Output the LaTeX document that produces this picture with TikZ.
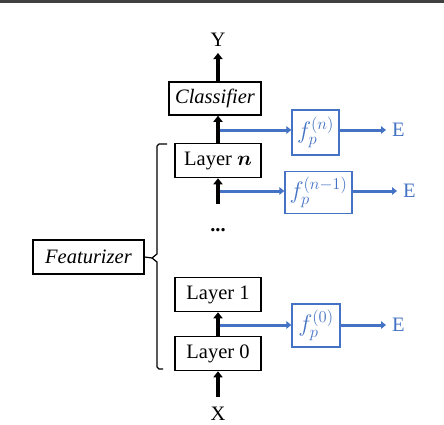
\documentclass[tikz,border=0pt]{standalone}
\usepackage{fontspec}
\setmainfont{Liberation Serif}
\usepackage{bm}
\usetikzlibrary{arrows.meta,positioning}
\definecolor{fblue}{RGB}{68,114,196}
\tikzset{
  blk/.style={line width=3.5pt,-{Triangle[width=9pt,length=6pt]}},
  blu/.style={fblue,line width=3pt,-{Triangle[width=7.5pt,length=5pt]}},
  layer/.style={draw,line width=1.5pt,minimum width=86pt,minimum height=34pt,inner sep=0pt},
  probe/.style={draw=fblue,text=fblue,line width=1.3pt,minimum height=43pt,inner sep=2pt},
  outE/.style={anchor=west,inner xsep=6pt,inner ysep=0pt,text=fblue},
}

\begin{document}
\begin{tikzpicture}[x=1pt,y=-1pt,font=\fontsize{20.5}{24}\selectfont]
    \useasboundingbox (0,0) rectangle (444,424);
    \fill[black!75] (0,0) rectangle (444,3);

    % coordinates to be reused
    \coordinate (yin) at (218,53);
    \coordinate (xout) at (218,397);
    \coordinate (lnin) at (218,204);
    \coordinate (tapn) at (218,130);
    \coordinate (tapm) at (218,191);
    \coordinate (tap0) at (218,325);

    % main stack
    \node[layer,minimum width=92pt,minimum height=33pt] (cls) at (215,98.5) {\textit{Classifier}};
    \node[layer] (lyrn) at (218,160.5) {Layer $\bm{n}$};
    \node (dots) at (218,230) {\textbf{...}};
    \node[layer] (lyr1) at (218,294.5) {Layer 1};
    \node[layer] (lyr0) at (218,353.5) {Layer 0};
    \node[layer,minimum width=111pt] (feat) at (88.5,257) {\textit{Featurizer}};
    \node (Y) at (218,39.5) {Y};
    \node (X) at (218,413.5) {X};

    % probes
    \node[probe,minimum width=47pt,minimum height=45pt] (fn) at (315.5,132.5) {\scalebox{1.15}{$f_p^{(n)}$}};
    \node[probe,minimum width=67pt,minimum height=42pt] (fm) at (318.5,192.5) {\scalebox{1.15}{$f_p^{(n-1)}$}};
    \node[probe,minimum width=48pt] (f0) at (316,325.5) {\scalebox{1.15}{$f_p^{(0)}$}};
    \node[outE] (En) at (386,130) {E};
    \node[outE] (Em) at (397,191) {E};
    \node[outE] (E0) at (386,325) {E};

    % blue branches
    \draw[blu] (tapn) -- (tapn -| fn.west);
    \draw[blu] (tapm) -- (tapm -| fm.west);
    \draw[blu] (tap0) -- (tap0 -| f0.west);
    \draw[blu] (fn.east |- En) -- (En.west);
    \draw[blu] (fm.east |- Em) -- (Em.west);
    \draw[blu] (f0.east |- E0) -- (E0.west);

    % black flow
    \draw[blk] (yin |- cls.north) -- (yin);
    \draw[blk] (lyrn.north) -- (lyrn.north |- cls.south);
    \draw[blk] (lnin) -- (lyrn.south);
    \draw[blk] (lyr0.north) -- (lyr1.south);
    \draw[blk] (xout) -- (lyr0.south);

    % featurizer brace
    \draw[line width=1.2pt,line join=round] (167,144) -- (159,144) -- (157,146) -- (157,254)
      -- (152,258) -- (feat.east) (152,258) -- (157,262) -- (157,367) -- (159,369) -- (163,369);
\end{tikzpicture}
\end{document}
